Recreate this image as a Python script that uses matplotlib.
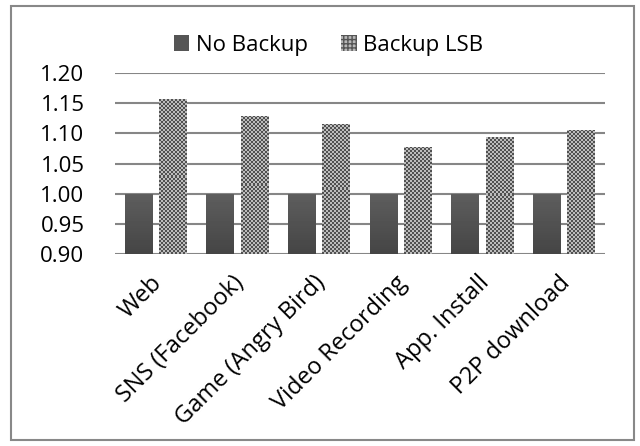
import numpy as np
import matplotlib.pyplot as plt
from matplotlib.patches import Patch, Rectangle
from matplotlib.transforms import ScaledTranslation

categories = ['Web', 'SNS (Facebook)', 'Game (Angry Bird)', 'Video Recording',
              'App. Install', 'P2P download']
no_backup = [1.00, 1.00, 1.00, 1.00, 1.00, 1.00]
backup_lsb = [1.156, 1.128, 1.115, 1.078, 1.093, 1.106]
y_ticks = [0.90, 0.95, 1.00, 1.05, 1.10, 1.15, 1.20]

plt.rcParams['font.family'] = ['Open Sans', 'DejaVu Sans']
FS = 16

W, H = 640, 446
fig = plt.figure(figsize=(W / 100, H / 100), dpi=100)
ax = fig.add_axes([115 / W, 1 - 254.3 / H, 490 / W, (254.3 - 72.7) / H])

x = np.arange(len(categories))
bw = 0.34
off = 0.21
base = y_ticks[0]
px_x = 490 / len(categories)          # pixels per category
px_y = (254.3 - 72.7) / (y_ticks[-1] - base)


def texture(bar, img):
    x0, y0 = bar.get_x(), bar.get_y()
    im = ax.imshow(img, extent=(x0, x0 + bar.get_width(), y0, y0 + bar.get_height()),
                   aspect='auto', interpolation='nearest', cmap='gray',
                   vmin=0, vmax=1, origin='lower', zorder=3)
    im.set_clip_path(bar)


bars1 = ax.bar(x - off, np.array(no_backup) - base, bw, bottom=base,
               color='#555555', zorder=2)
bars2 = ax.bar(x + off, np.array(backup_lsb) - base, bw, bottom=base,
               color='#888888', zorder=2)

# dark bars: slight vertical gradient
for b in bars1:
    ny = max(int(b.get_height() * px_y), 2)
    texture(b, np.linspace(0.27, 0.37, ny)[:, None])

# backup bars: fine checker pattern
for b in bars2:
    nx = int(round(b.get_width() * px_x / 2))
    ny = int(round(b.get_height() * px_y / 2))
    jj, ii = np.meshgrid(np.arange(nx), np.arange(ny))
    img = np.where((ii + jj) % 2 == 0, 0.32, 0.74)
    texture(b, img)

ax.set_xlim(-0.5, len(categories) - 0.5)
ax.set_ylim(base, y_ticks[-1])
ax.set_yticks(y_ticks)
ax.set_yticklabels([f'{v:.2f}' for v in y_ticks])
ax.set_xticks(x)
ax.set_xticklabels(categories, rotation=45, ha='right', va='top',
                   rotation_mode='anchor')
ax.tick_params(axis='y', length=0, pad=22, labelsize=FS)
ax.tick_params(axis='x', length=0, pad=12, labelsize=17)
shift = ScaledTranslation(-4 / 72, 0, fig.dpi_scale_trans)
for lbl in ax.get_xticklabels():
    lbl.set_transform(lbl.get_transform() + shift)
ax.yaxis.grid(True, color='#868686', lw=1.5)
ax.set_axisbelow(True)
for s in ax.spines.values():
    s.set_visible(False)

handles = [Patch(facecolor='#555555', lw=0),
           Patch(facecolor='#b8b8b8', edgecolor='#555555', hatch='++++', lw=0)]
fig.legend(handles, ['No Backup', 'Backup LSB'], loc='center',
           bbox_to_anchor=(0.5135, 0.899), ncol=2, frameon=False,
           fontsize=FS, handlelength=0.7, handleheight=0.7,
           handletextpad=0.3, columnspacing=1.5)

fig.patches.append(Rectangle((11 / W, 1 - 440 / H), 623 / W, 434 / H,
                             transform=fig.transFigure, fill=False,
                             edgecolor='#888888', lw=1.5))

fig.savefig('out.png', dpi=100)
